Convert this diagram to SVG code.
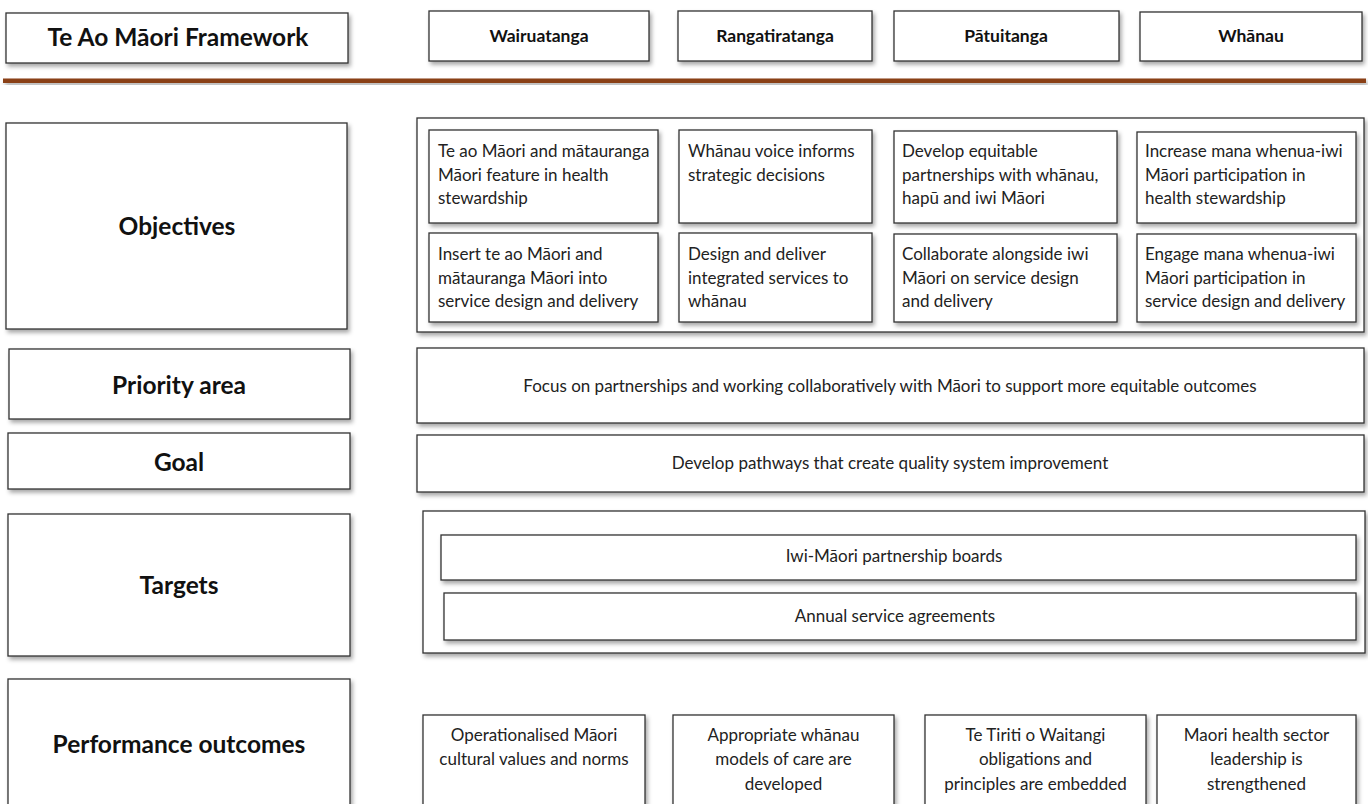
<svg xmlns="http://www.w3.org/2000/svg" width="1368" height="804" viewBox="0 0 1368 804">
<style>
.box{fill:#fff;stroke:#333;stroke-width:1.3;filter:url(#sh)}
.lb{font-family:Lato,"Open Sans","Liberation Sans",sans-serif;font-weight:700;font-size:24.5px;fill:#111;text-anchor:middle}
.hd{font-family:Lato,"Open Sans","Liberation Sans",sans-serif;font-weight:700;font-size:17.5px;fill:#111;text-anchor:middle}
.tx{font-family:Lato,"Open Sans","Liberation Sans",sans-serif;font-size:17px;fill:#222}
.cx{font-family:Lato,"Open Sans","Liberation Sans",sans-serif;font-size:17px;fill:#222;text-anchor:middle}
.px{font-family:Lato,"Open Sans","Liberation Sans",sans-serif;font-size:17px;fill:#222;text-anchor:middle}
</style>
<defs>
<filter id="sh" x="-10%" y="-10%" width="130%" height="150%">
<feDropShadow dx="2" dy="3" stdDeviation="2" flood-color="#000" flood-opacity="0.35"/>
</filter>
</defs>
<rect width="1368" height="804" fill="#fff"/>

<g id="title"><rect class="box" x="6" y="13" width="342" height="50"/><text class="lb" x="178" y="46">Te Ao Māori Framework</text></g>
<g id="h-wairuatanga"><rect class="box" x="429" y="11" width="220" height="50"/><text class="hd" x="539" y="42">Wairuatanga</text></g>
<g id="h-rangatiratanga"><rect class="box" x="678" y="11" width="194" height="50"/><text class="hd" x="775" y="42">Rangatiratanga</text></g>
<g id="h-patuitanga"><rect class="box" x="894" y="11" width="225" height="50"/><text class="hd" x="1006" y="42">Pātuitanga</text></g>
<g id="h-whanau"><rect class="box" x="1140" y="12" width="222" height="49"/><text class="hd" x="1251" y="42">Whānau</text></g>

<g id="divider"><rect x="3" y="78.5" width="1363" height="4.5" fill="#8a3f12" filter="url(#sh)"/></g>

<g id="objectives"><rect class="box" x="6" y="123" width="341" height="206"/><text class="lb" x="177" y="235">Objectives</text></g>
<g id="priority"><rect class="box" x="9" y="349" width="341" height="70"/><text class="lb" x="179" y="394">Priority area</text></g>
<g id="goal"><rect class="box" x="8" y="433" width="342" height="56"/><text class="lb" x="179" y="471">Goal</text></g>
<g id="targets"><rect class="box" x="8" y="514" width="342" height="142"/><text class="lb" x="179" y="594">Targets</text></g>
<g id="performance"><rect class="box" x="8" y="679" width="342" height="140"/><text class="lb" x="179" y="753">Performance outcomes</text></g>

<g id="objectives-panel">
<rect class="box" x="417" y="118" width="947" height="214"/>
<g id="o1"><rect class="box" x="429" y="130" width="229" height="93"/><text class="tx" x="438" y="157">Te ao Māori and mātauranga</text><text class="tx" x="438" y="180.5">Māori feature in health</text><text class="tx" x="438" y="204">stewardship</text></g>
<g id="o2"><rect class="box" x="679" y="130" width="193" height="93"/><text class="tx" x="688" y="157">Whānau voice informs</text><text class="tx" x="688" y="180.5">strategic decisions</text></g>
<g id="o3"><rect class="box" x="894" y="131" width="223" height="92"/><text class="tx" x="902" y="157">Develop equitable</text><text class="tx" x="902" y="180.5">partnerships with whānau,</text><text class="tx" x="902" y="204">hapū and iwi Māori</text></g>
<g id="o4"><rect class="box" x="1137" y="132" width="219" height="91"/><text class="tx" x="1145" y="157">Increase mana whenua-iwi</text><text class="tx" x="1145" y="180.5">Māori participation in</text><text class="tx" x="1145" y="204">health stewardship</text></g>
<g id="o5"><rect class="box" x="429" y="233" width="229" height="89"/><text class="tx" x="438" y="260">Insert te ao Māori and</text><text class="tx" x="438" y="283.5">mātauranga Māori into</text><text class="tx" x="438" y="307">service design and delivery</text></g>
<g id="o6"><rect class="box" x="679" y="233" width="193" height="89"/><text class="tx" x="688" y="260">Design and deliver</text><text class="tx" x="688" y="283.5">integrated services to</text><text class="tx" x="688" y="307">whānau</text></g>
<g id="o7"><rect class="box" x="894" y="234" width="223" height="88"/><text class="tx" x="902" y="260">Collaborate alongside iwi</text><text class="tx" x="902" y="283.5">Māori on service design</text><text class="tx" x="902" y="307">and delivery</text></g>
<g id="o8"><rect class="box" x="1137" y="234" width="219" height="88"/><text class="tx" x="1145" y="260">Engage mana whenua-iwi</text><text class="tx" x="1145" y="283.5">Māori participation in</text><text class="tx" x="1145" y="307">service design and delivery</text></g>
</g>

<g id="priority-text"><rect class="box" x="417" y="348" width="947" height="75"/><text class="cx" x="890" y="392">Focus on partnerships and working collaboratively with Māori to support more equitable outcomes</text></g>
<g id="goal-text"><rect class="box" x="417" y="435" width="947" height="57"/><text class="cx" x="890" y="469">Develop pathways that create quality system improvement</text></g>

<g id="targets-panel">
<rect class="box" x="423" y="511" width="942" height="142"/>
<g id="t1"><rect class="box" x="441" y="535" width="915" height="45"/><text class="cx" x="894" y="562">Iwi-Māori partnership boards</text></g>
<g id="t2"><rect class="box" x="444" y="593" width="912" height="47"/><text class="cx" x="895" y="622">Annual service agreements</text></g>
</g>

<g id="p1"><rect class="box" x="423" y="715" width="222" height="110"/><text class="px" x="534" y="741">Operationalised Māori</text><text class="px" x="534" y="765">cultural values and norms</text></g>
<g id="p2"><rect class="box" x="673" y="715" width="221" height="110"/><text class="px" x="783.5" y="741">Appropriate whānau</text><text class="px" x="783.5" y="765">models of care are</text><text class="px" x="783.5" y="790">developed</text></g>
<g id="p3"><rect class="box" x="925" y="715" width="221" height="110"/><text class="px" x="1035.5" y="741">Te Tiriti o Waitangi</text><text class="px" x="1035.5" y="765">obligations and</text><text class="px" x="1035.5" y="790">principles are embedded</text></g>
<g id="p4"><rect class="box" x="1157" y="715" width="199" height="110"/><text class="px" x="1256.5" y="741">Maori health sector</text><text class="px" x="1256.5" y="765">leadership is</text><text class="px" x="1256.5" y="790">strengthened</text></g>
</svg>
